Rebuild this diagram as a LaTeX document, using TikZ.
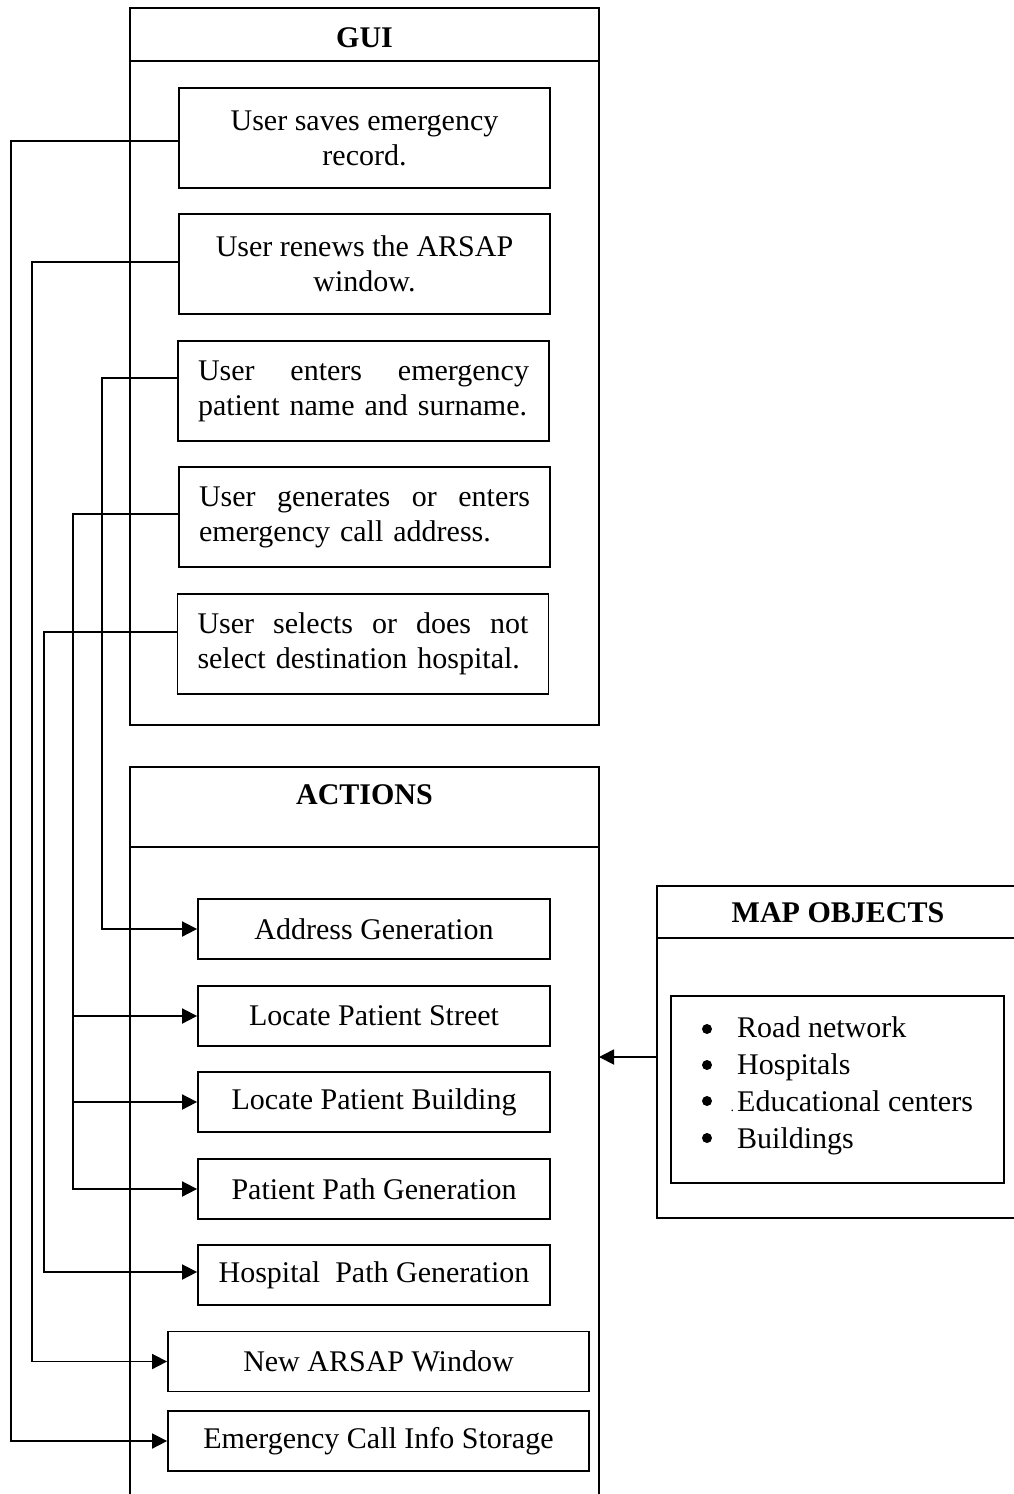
\documentclass[tikz,border=0pt]{standalone}
\usepackage{fontspec}
\setmainfont{Liberation Serif}
\usetikzlibrary{arrows.meta}
\newcommand\fs{\fontsize{30}{35}\selectfont}
\newcommand\spreadline[1]{\hbox to 331pt{#1}}
\begin{document}
\begin{tikzpicture}[x=1pt,y=-1pt,
  lw/.style={line width=1.8pt},
  box/.style={draw,lw,inner sep=0pt,align=center,font=\fs,minimum height=100pt,minimum width=371pt},
  jbox/.style={box,text width=331pt,align=left},
  abox/.style={draw,lw,inner sep=0pt,align=center,font=\fs,minimum height=60pt,minimum width=352pt},
  wbox/.style={abox,minimum width=421pt},
  hdr/.style={font=\fs\bfseries,inner sep=0pt},
  conn/.style={lw,-{Triangle[length=15pt,width=15pt]}},
  dotmark/.style={fill=black}]
\useasboundingbox (0,0) rectangle (1013,1494);

% GUI container
\node[draw,lw,inner sep=0pt,minimum width=469pt,minimum height=717pt] (gui) at (364.5,366.5) {};
\draw[lw] ([yshift=-54pt]gui.north west) -- ([yshift=-54pt]gui.north east);
\node[hdr] (guit) at (364.5,38) {GUI};

\node[box] (b1) at (364.5,138) {User saves emergency\\record.};
\node[box] (b2) at (364.5,264) {User renews the ARSAP\\window.};
\node[jbox] (b3) at (363.5,391) {\spreadline{User\hfill enters\hfill emergency}\\patient name and surname.};
\node[jbox] (b4) at (364.5,517) {\spreadline{User\hfill generates\hfill or\hfill enters}\\emergency call address.};
\node[jbox] (b5) at (363,644) {\spreadline{User\hfill selects\hfill or\hfill does\hfill not}\\select destination hospital.};

% ACTIONS container
\coordinate (aBL) at (130,1494);
\coordinate (aTL) at (130,767);
\coordinate (aTR) at (599,767);
\coordinate (aBR) at (599,1494);
\draw[lw] (aBL) -- (aTL) -- (aTR) -- (aBR);
\draw[lw] (130,847) -- (599,847);
\node[hdr] (actt) at (364.5,795) {ACTIONS};

\node[abox] (a1) at (374,929) {Address Generation};
\node[abox] (a2) at (374,1016) {Locate Patient Street};
\node[abox] (a3) at (374,1102) {Locate Patient Building};
\node[abox] (a4) at (374,1189) {Patient Path Generation};
\node[abox] (a5) at (374,1275) {Hospital\ \ Path Generation};
\node[wbox] (a6) at (378.5,1361.5) {New ARSAP Window};
\node[wbox] (a7) at (378.5,1441) {Emergency Call Info Storage};

% MAP OBJECTS container
\coordinate (mTR) at (1015,886);
\coordinate (mTL) at (657,886);
\coordinate (mBL) at (657,1218);
\coordinate (mBR) at (1015,1218);
\draw[lw] (mTR) -- (mTL) -- (mBL) -- (mBR);
\draw[lw] (657,938) -- (1015,938);
\node[hdr] (mapt) at (838,913) {MAP OBJECTS};
\node[draw,lw,inner sep=0pt,minimum width=333pt,minimum height=187pt] (mlist) at (837.5,1089.5) {};
\node[anchor=west,inner sep=0pt,align=left,font=\fontsize{30}{37}\selectfont] (items) at (737,1086)
  {Road network\\Hospitals\\\makebox[0pt][r]{\fontsize{14}{14}\selectfont.\hspace{3pt}}Educational centers\\Buildings};
\fill[dotmark] (707,1029) circle (5);
\fill[dotmark] (707,1065) circle (5);
\fill[dotmark] (707,1101) circle (5);
\fill[dotmark] (707,1138) circle (5);

% arrow from map objects to actions
\coordinate (mapL) at (657,1057);
\coordinate (actR) at (599,1057);
\draw[conn] (mapL) -- (actR);

% connectors
\draw[conn] ([yshift=-3pt]b1.west) -- ++(-167,0) |- (a7.west);
\draw[conn] ([yshift=2pt]b2.west) -- ++(-146,0) |- (a6.west);
\draw[conn] ([yshift=13pt]b3.west) -- ++(-75,0) |- (a1.west);
\draw[conn] ([yshift=3pt]b4.west) -- ++(-105,0) coordinate (t4) |- (a4.west);
\draw[conn] (t4 |- a2.west) -- (a2.west);
\draw[conn] (t4 |- a3.west) -- (a3.west);
\draw[conn] ([yshift=12pt]b5.west) -- ++(-133,0) |- ([yshift=3pt]a5.west);
\end{tikzpicture}
\end{document}
